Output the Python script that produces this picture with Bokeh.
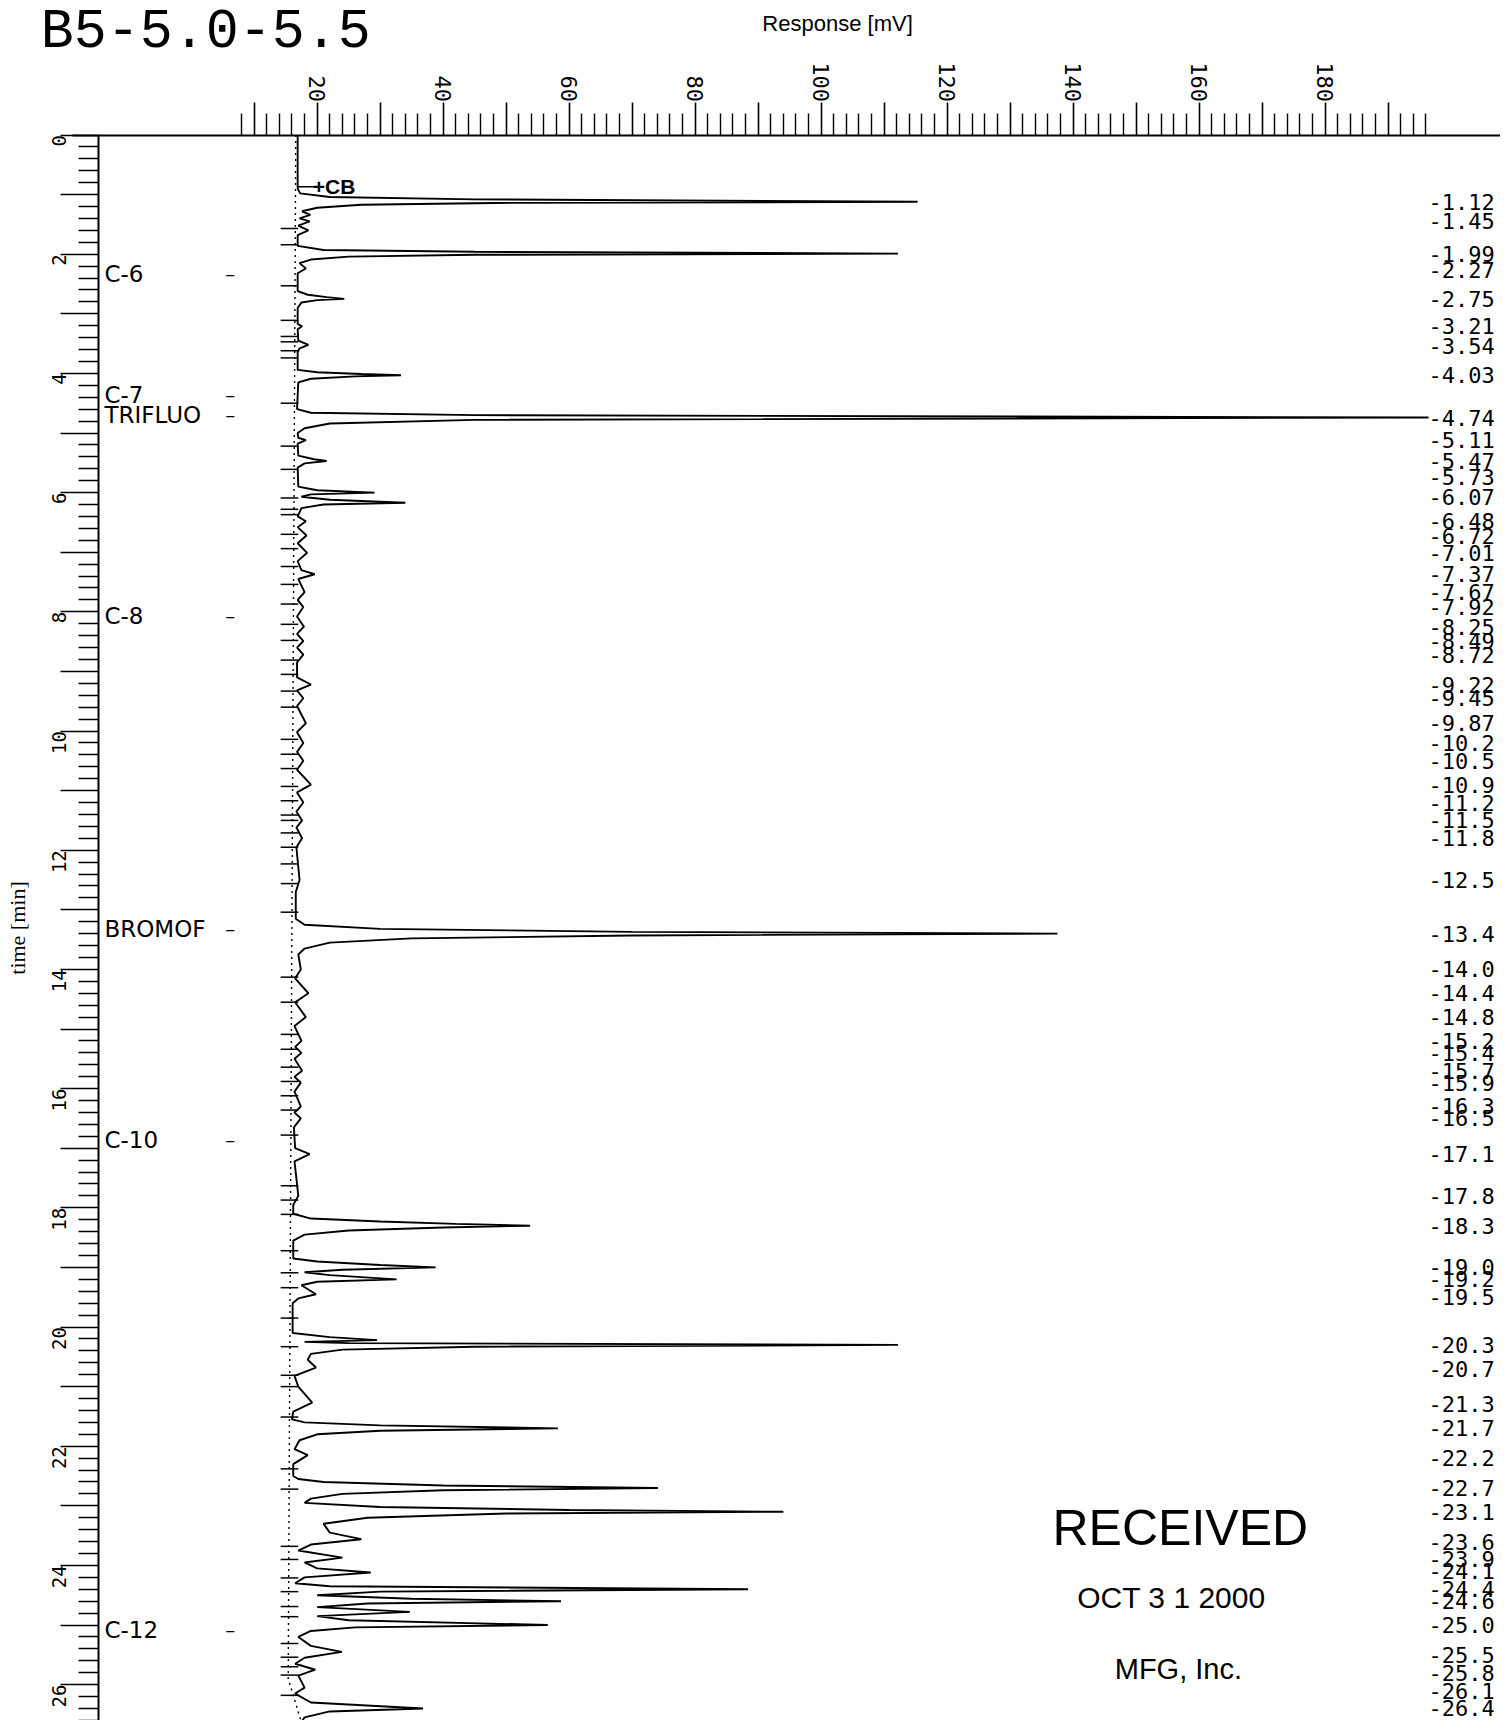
import math
from bokeh.plotting import figure
from bokeh.models import Range1d, LinearAxis, FixedTicker, ColumnDataSource
from bokeh.core.properties import value
from bokeh.embed import file_html
from bokeh.resources import INLINE

# ---------------- data ----------------
# chromatogram trace: (time [min], response [mV])
trace_points = [
    (0.00, 16.9), (0.90, 16.9), (0.98, 17.3), (1.04, 22), (1.08, 45), (1.12, 115.3),
    (1.14, 48), (1.17, 27), (1.22, 20), (1.28, 17.6), (1.34, 18.9), (1.40, 17.2),
    (1.45, 18.8), (1.52, 17.0), (1.60, 18.6), (1.68, 16.9), (1.86, 16.9), (1.93, 21),
    (1.96, 45), (1.99, 112.2), (2.01, 45), (2.04, 25), (2.09, 19), (2.15, 17.2),
    (2.24, 18.2), (2.32, 16.9), (2.62, 16.9), (2.68, 18.5), (2.72, 21.5), (2.75, 24.3),
    (2.77, 20), (2.81, 17.5), (2.90, 16.9), (3.17, 16.9), (3.21, 17.6), (3.26, 16.9),
    (3.45, 17.0), (3.52, 18.6), (3.58, 17.2), (3.64, 16.9), (3.94, 16.9), (3.98, 20),
    (4.01, 27), (4.03, 33.3), (4.05, 26), (4.09, 19), (4.15, 17.0), (4.60, 16.8),
    (4.66, 19), (4.70, 45), (4.74, 196.4), (4.78, 45), (4.84, 22), (4.92, 18),
    (5.00, 16.9), (5.08, 17.0), (5.12, 18.2), (5.18, 16.9), (5.38, 17.0), (5.44, 19.5),
    (5.47, 21.5), (5.51, 18), (5.58, 16.9), (5.90, 17.0), (5.96, 20), (6.00, 29.1),
    (6.03, 19), (6.07, 17.5), (6.12, 22), (6.17, 34), (6.20, 21), (6.26, 17.5),
    (6.40, 16.9), (6.48, 18.2), (6.58, 16.9), (6.72, 18.3), (6.85, 16.9), (7.01, 18.4),
    (7.15, 16.9), (7.30, 17.5), (7.37, 19.6), (7.45, 17.0), (7.67, 18.0), (7.80, 16.9),
    (7.92, 17.8), (8.08, 16.8), (8.25, 17.9), (8.37, 16.8), (8.49, 17.8), (8.60, 16.8),
    (8.72, 17.8), (8.85, 16.8), (9.10, 16.8), (9.22, 19.0), (9.32, 16.8), (9.45, 17.8),
    (9.58, 16.8), (9.87, 18.2), (10.02, 16.8), (10.2, 17.8), (10.35, 16.8), (10.5, 17.8),
    (10.65, 16.8), (10.9, 19.0), (11.03, 16.8), (11.2, 17.8), (11.35, 16.7), (11.5, 17.6),
    (11.62, 16.7), (11.8, 17.6), (11.95, 16.7), (12.5, 17.2), (12.7, 16.6), (13.15, 16.6),
    (13.25, 18), (13.32, 30), (13.37, 70), (13.40, 137.5), (13.43, 70), (13.48, 35),
    (13.55, 22), (13.65, 18), (13.75, 17.0), (14.0, 17.4), (14.15, 16.5), (14.4, 18.6),
    (14.55, 16.5), (14.8, 18.2), (14.95, 16.4), (15.2, 17.5), (15.3, 16.5), (15.4, 17.5),
    (15.5, 16.4), (15.7, 17.6), (15.8, 16.4), (15.9, 17.4), (16.05, 16.4), (16.3, 17.4),
    (16.4, 16.4), (16.5, 17.4), (16.65, 16.3), (17.0, 16.5), (17.1, 18.8), (17.22, 16.4),
    (17.8, 17.0), (17.95, 16.2), (18.1, 16.2), (18.18, 19), (18.23, 30), (18.27, 42),
    (18.30, 53.8), (18.33, 40), (18.38, 25), (18.45, 18), (18.55, 16.2), (18.85, 16.2),
    (18.90, 20), (18.96, 30), (19.00, 38.8), (19.04, 24), (19.08, 18), (19.13, 22),
    (19.20, 32.6), (19.24, 20), (19.30, 17.5), (19.45, 19.8), (19.52, 17.0), (19.60, 16.1),
    (20.10, 16.1), (20.17, 22), (20.22, 29.5), (20.25, 18), (20.27, 25), (20.30, 112.2),
    (20.33, 45), (20.38, 24), (20.45, 19), (20.55, 18.5), (20.68, 19.8), (20.82, 16.4),
    (21.00, 17.0), (21.27, 19.2), (21.42, 16.2), (21.55, 16.0), (21.60, 18), (21.65, 30),
    (21.70, 58.2), (21.74, 30), (21.80, 20), (21.90, 17.2), (22.05, 16.4), (22.15, 18.5),
    (22.30, 16.2), (22.50, 16.2), (22.55, 17), (22.60, 21), (22.66, 40), (22.70, 74.1),
    (22.74, 40), (22.80, 24), (22.88, 19), (22.95, 18), (23.02, 30), (23.07, 60),
    (23.10, 94), (23.13, 50), (23.20, 28), (23.30, 21), (23.45, 22), (23.56, 27),
    (23.65, 19), (23.75, 17), (23.87, 24), (23.95, 18), (24.05, 20), (24.12, 28.5),
    (24.20, 18), (24.30, 16.5), (24.35, 22), (24.40, 88.4), (24.44, 30), (24.50, 20),
    (24.56, 35), (24.60, 58.7), (24.64, 28), (24.70, 20), (24.78, 34.7), (24.85, 20),
    (24.92, 25), (25.00, 56.6), (25.04, 26), (25.10, 19), (25.20, 17), (25.35, 19),
    (25.45, 23.9), (25.55, 18), (25.65, 16.5), (25.75, 19.7), (25.85, 17), (26.05, 18),
    (26.15, 16.5), (26.30, 19), (26.40, 36.8), (26.45, 22), (26.55, 18), (26.70, 17),
]

# dotted baseline
baseline_time = [0.0, 25.9, 26.6]
baseline_mv = [16.6, 15.4, 17.4]

# integration (peak start / end) marks on the left of the trace [min]
mark_times = [1.57, 1.84, 2.53, 3.11, 3.38, 3.47, 3.62, 3.74, 4.50, 5.22, 5.61, 6.09,
              6.28, 6.37, 6.70, 6.94, 7.24, 7.54, 7.87, 8.21, 8.48, 8.81, 9.05, 9.33,
              9.60, 10.14, 10.39, 10.63, 10.93, 11.17, 11.41, 11.50, 11.71, 11.95,
              12.23, 12.56, 13.04, 14.13, 14.55, 15.09, 15.34, 15.64, 15.88, 16.12,
              16.36, 16.78, 17.63, 17.87, 18.11, 18.72, 19.09, 19.34, 19.85, 20.33,
              20.81, 21.00, 21.51, 22.38, 22.72, 23.68, 23.90, 24.21, 24.44, 24.69,
              24.86, 25.31, 25.54, 25.70, 25.84, 26.18]

# retention-time labels on the right
peak_labels = ["1.12", "1.45", "1.99", "2.27", "2.75", "3.21", "3.54", "4.03", "4.74",
               "5.11", "5.47", "5.73", "6.07", "6.48", "6.72", "7.01", "7.37", "7.67",
               "7.92", "8.25", "8.49", "8.72", "9.22", "9.45", "9.87", "10.2", "10.5",
               "10.9", "11.2", "11.5", "11.8", "12.5", "13.4", "14.0", "14.4", "14.8",
               "15.2", "15.4", "15.7", "15.9", "16.3", "16.5", "17.1", "17.8", "18.3",
               "19.0", "19.2", "19.5", "20.3", "20.7", "21.3", "21.7", "22.2", "22.7",
               "23.1", "23.6", "23.9", "24.1", "24.4", "24.6", "25.0", "25.5", "25.8",
               "26.1", "26.4"]

# compound windows on the left
compound_names = ["C-6", "C-7", "TRIFLUO", "C-8", "BROMOF", "C-10", "C-12"]
compound_times = [2.33, 4.36, 4.69, 8.07, 13.32, 16.86, 25.08]

# axes
response_labels = [20, 40, 60, 80, 100, 120, 140, 160, 180]
time_labels = [0, 2, 4, 6, 8, 10, 12, 14, 16, 18, 20, 22, 24, 26]

# event marker
event_name = "+CB"
event_time = 0.87

# ---------------- figure ----------------
W, H = 1500, 1720
X0, X1 = -30.27, 207.83          # response [mV] across the page
T_TOP, T_BOT = -2.2567, 26.602   # time [min] down the page

p = figure(width=W, height=H, x_range=Range1d(X0, X1),
           y_range=Range1d(T_BOT, T_TOP), output_backend="svg",
           toolbar_location=None, min_border=0, x_axis_type=None,
           y_axis_type=None, title=None)
p.outline_line_color = None
p.background_fill_color = "white"
p.border_fill_color = "white"

MONO = "DejaVu Sans Mono"

# top axis: response
top = LinearAxis(fixed_location=0, bounds=(-18.8, X1))
top.ticker = FixedTicker(ticks=list(range(10, 200, 10)),
                         minor_ticks=[v for v in range(8, 198, 2) if v % 10])
top.major_label_overrides = {v: ("" if v not in response_labels else str(v))
                             for v in range(10, 200, 10)}
top.major_tick_out = 33
top.major_tick_in = 0
top.minor_tick_out = 22
top.minor_tick_in = 0
top.major_tick_line_width = 1.6
top.minor_tick_line_width = 1.4
top.axis_line_width = 2
top.major_label_orientation = -math.pi / 2
top.major_label_standoff = 0
top.major_label_text_font = MONO
top.major_label_text_font_size = "22px"
top.major_label_text_color = "black"
p.add_layout(top, "above")

# left axis: time
left = LinearAxis(fixed_location=-14.71, bounds=(0, T_BOT))
left.ticker = FixedTicker(ticks=list(range(0, 27)),
                          minor_ticks=[i / 5 for i in range(0, 134) if i % 5])
left.major_label_overrides = {v: (str(v) if v in time_labels else "") for v in range(0, 27)}
left.major_tick_out = 38
left.major_tick_in = 0
left.minor_tick_out = 20
left.minor_tick_in = 0
left.major_tick_line_width = 1.6
left.minor_tick_line_width = 1.4
left.axis_line_width = 2
left.major_label_orientation = math.pi / 2
left.major_label_standoff = 2
left.major_label_text_font = MONO
left.major_label_text_font_size = "19px"
left.major_label_text_color = "black"
left.axis_label = "time [min]"
left.axis_label_text_font = "Liberation Serif"
left.axis_label_text_font_style = "normal"
left.axis_label_text_font_size = "22px"
left.axis_label_text_color = "black"
left.axis_label_standoff = 12
p.add_layout(left, "left")

# dotted baseline
p.line(x=baseline_mv, y=baseline_time, line_color="black", line_width=1.4,
       line_dash="2 4")

# integration marks
p.segment(x0=[14.2] * len(mark_times), y0=mark_times, x1=[17.0] * len(mark_times),
          y1=mark_times, line_color="black", line_width=1.5)

# trace
trace_t = [a for a, b in trace_points]
trace_mv = [b for a, b in trace_points]
p.line(x=trace_mv, y=trace_t, line_color="black", line_width=1.9)

# event marker "+CB"
p.segment(x0=[trace_mv[0]], y0=[event_time], x1=[19.8], y1=[event_time],
          line_color="black", line_width=1.5)
p.text(x=[19.3], y=[event_time], text=[event_name], text_font=value("Liberation Sans"),
       text_font_style="bold", text_font_size="21px", text_baseline="middle",
       text_align="left", text_color="black")

# right-hand retention time labels
src_r = ColumnDataSource(dict(x=[196.4] * len(peak_labels),
                              y=[float(s) for s in peak_labels],
                              text=["-" + s for s in peak_labels]))
p.text(x="x", y="y", text="text", source=src_r, text_font=value(MONO),
       text_font_size="22px", text_baseline="middle", text_align="left",
       text_color="black")

# compound windows on the left
src_c = ColumnDataSource(dict(x=[-13.76] * len(compound_names), y=compound_times,
                              text=compound_names))
p.text(x="x", y="y", text="text", source=src_c, text_font=value("DejaVu Sans"),
       text_font_size="23px", text_baseline="middle", text_align="left",
       text_color="black")
p.text(x=[5.4] * len(compound_times), y=compound_times, text=["–"] * len(compound_times),
       text_font=value("DejaVu Sans"), text_font_size="20px", text_baseline="middle",
       text_align="left", text_color="black")

# header texts
p.text(x=[102.6], y=[-1.87], text=["Response [mV]"], text_font=value("Liberation Sans"),
       text_font_size="22px", text_baseline="middle", text_align="center",
       text_color="black")
p.text(x=[-23.9], y=[-1.72], text=["B5-5.0-5.5"], text_font=value("Liberation Mono"),
       text_font_size="55px", text_baseline="middle", text_align="left",
       text_color="black")

# received stamp
p.text(x=[157.0], y=[23.38], text=["RECEIVED"], text_font=value("Liberation Sans"),
       text_font_size="50px", text_baseline="middle", text_align="center",
       text_color="black")
p.text(x=[155.6], y=[24.54], text=["OCT 3 1 2000"], text_font=value("Liberation Sans"),
       text_font_size="30px", text_baseline="middle", text_align="center",
       text_color="black")
p.text(x=[156.7], y=[25.73], text=["MFG, Inc."], text_font=value("Liberation Sans"),
       text_font_size="29px", text_baseline="middle", text_align="center",
       text_color="black")

open("out.html", "w").write(file_html(p, INLINE))
